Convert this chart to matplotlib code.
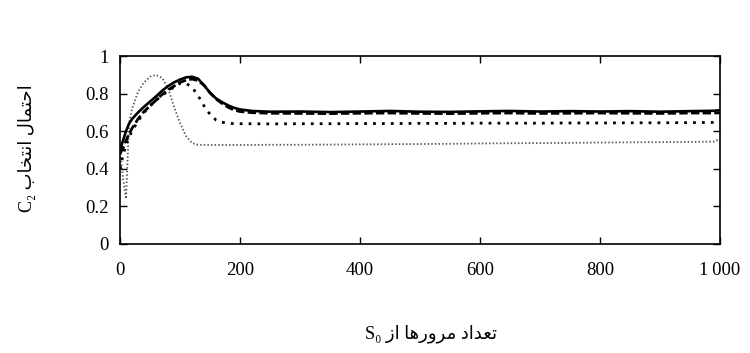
import matplotlib
matplotlib.use("Agg")
import matplotlib.pyplot as plt

# passes over S0 (x axis)
steps = [0, 5, 10, 15, 20, 30, 40, 50, 60, 70, 80, 90, 100, 110, 120, 130, 140,
         150, 160, 170, 180, 190, 200, 220, 250, 300, 350, 400, 450, 500, 550,
         600, 650, 700, 750, 800, 850, 900, 950, 990, 1000]

# probability of choosing C2, one list per run
p_solid = [0.50, 0.55, 0.60, 0.64, 0.665, 0.70, 0.73, 0.758, 0.785, 0.815, 0.84,
           0.86, 0.875, 0.887, 0.89, 0.88, 0.845, 0.805, 0.775, 0.755, 0.738,
           0.725, 0.716, 0.708, 0.704, 0.705, 0.702, 0.705, 0.708, 0.704, 0.703,
           0.706, 0.708, 0.705, 0.707, 0.705, 0.707, 0.704, 0.707, 0.709, 0.712]
p_dashed = [0.48, 0.51, 0.55, 0.585, 0.615, 0.665, 0.705, 0.735, 0.765, 0.795,
            0.82, 0.84, 0.86, 0.872, 0.878, 0.87, 0.845, 0.805, 0.772, 0.748,
            0.728, 0.713, 0.705, 0.699, 0.696, 0.695, 0.694, 0.696, 0.697,
            0.695, 0.694, 0.696, 0.697, 0.695, 0.696, 0.697, 0.696, 0.695,
            0.697, 0.697, 0.698]
p_dots = [0.40, 0.47, 0.53, 0.57, 0.60, 0.655, 0.70, 0.735, 0.765, 0.79, 0.815,
          0.835, 0.855, 0.855, 0.835, 0.79, 0.735, 0.69, 0.66, 0.648, 0.643,
          0.64, 0.64, 0.64, 0.639, 0.64, 0.64, 0.641, 0.641, 0.642, 0.642,
          0.643, 0.643, 0.643, 0.644, 0.644, 0.645, 0.645, 0.646, 0.647, 0.652]
p_fine = [0.50, 0.35, 0.24, 0.64, 0.72, 0.81, 0.86, 0.89, 0.90, 0.885, 0.83,
          0.73, 0.645, 0.575, 0.537, 0.528, 0.527, 0.527, 0.527, 0.527, 0.527,
          0.527, 0.527, 0.527, 0.528, 0.528, 0.529, 0.53, 0.531, 0.532, 0.533,
          0.535, 0.536, 0.537, 0.538, 0.54, 0.541, 0.542, 0.543, 0.545, 0.56]

xtick_vals = [0, 200, 400, 600, 800, 1000]
xtick_text = ["0", "200", "400", "600", "800", "1\u2009000"]
ytick_vals = [0, 0.2, 0.4, 0.6, 0.8, 1]
ytick_text = ["0", "0.2", "0.4", "0.6", "0.8", "1"]

xlabel_fa = "تعداد مرورها از"
ylabel_fa = "احتمال انتخاب"

# isolated, final, initial, medial (None = letter never joins to the next one)
FORMS = {
    "ا": ("\uFE8D", "\uFE8E", None, None),
    "ب": ("\uFE8F", "\uFE90", "\uFE91", "\uFE92"),
    "ت": ("\uFE95", "\uFE96", "\uFE97", "\uFE98"),
    "ح": ("\uFEA1", "\uFEA2", "\uFEA3", "\uFEA4"),
    "خ": ("\uFEA5", "\uFEA6", "\uFEA7", "\uFEA8"),
    "د": ("\uFEA9", "\uFEAA", None, None),
    "ر": ("\uFEAD", "\uFEAE", None, None),
    "ز": ("\uFEAF", "\uFEB0", None, None),
    "ع": ("\uFEC9", "\uFECA", "\uFECB", "\uFECC"),
    "ل": ("\uFEDD", "\uFEDE", "\uFEDF", "\uFEE0"),
    "م": ("\uFEE1", "\uFEE2", "\uFEE3", "\uFEE4"),
    "ن": ("\uFEE5", "\uFEE6", "\uFEE7", "\uFEE8"),
    "ه": ("\uFEE9", "\uFEEA", "\uFEEB", "\uFEEC"),
    "و": ("\uFEED", "\uFEEE", None, None),
}


def rtl(text):
    # matplotlib does no shaping, so pick the joined forms and reverse
    out = []
    for i, ch in enumerate(text):
        if ch not in FORMS:
            out.append(ch)
            continue
        prev = text[i - 1] if i > 0 else ""
        nxt = text[i + 1] if i + 1 < len(text) else ""
        iso, fin, ini, med = FORMS[ch]
        join_prev = prev in FORMS and FORMS[prev][2] is not None
        join_next = nxt in FORMS and ini is not None
        if join_prev and join_next:
            out.append(med)
        elif join_prev:
            out.append(fin)
        elif join_next:
            out.append(ini)
        else:
            out.append(iso)
    return "".join(reversed(out))


serif = ["Liberation Serif", "DejaVu Sans"]

fig = plt.figure(figsize=(7.5, 3.53), dpi=100)
ax = fig.add_axes([0.16, 0.309, 0.80, 0.532])

ax.plot(steps, p_fine, color="#555555", lw=1.3, linestyle=(0, (0.8, 1.2)))
ax.plot(steps, p_dots, color="black", lw=2.0, linestyle=(0, (1, 2.2)))
ax.plot(steps, p_dashed, color="black", lw=2.0, linestyle=(0, (3, 1.2)))
ax.plot(steps, p_solid, color="black", lw=1.9)

ax.set_xlim(0, 1000)
ax.set_ylim(0, 1)
ax.set_xticks(xtick_vals)
ax.set_xticklabels(xtick_text, family=serif, fontsize=13.5)
ax.set_yticks(ytick_vals)
ax.set_yticklabels(ytick_text, family=serif, fontsize=13.5)
ax.tick_params(direction="in", length=5, width=1, top=True, right=True)
ax.tick_params(axis="x", pad=13)
ax.tick_params(axis="y", pad=8)
for s in ax.spines.values():
    s.set_linewidth(1.2)

fig.text(0.575, 0.055, "S\u2080 " + rtl(xlabel_fa), family=serif,
         fontsize=13, ha="center", va="center")
fig.text(0.036, 0.58, "C\u2082 " + rtl(ylabel_fa), family=serif,
         fontsize=13, ha="center", va="center", rotation=90)

fig.savefig("out.png", dpi=100)
